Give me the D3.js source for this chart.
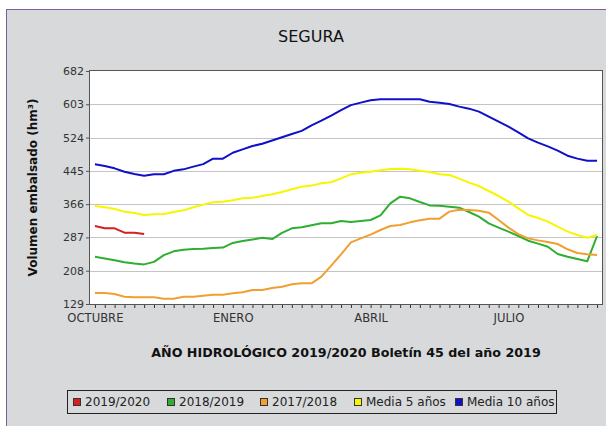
<!DOCTYPE html>
<html>
<head>
<meta charset="utf-8">
<script src="https://cdn.jsdelivr.net/npm/d3@7"></script>
<style>
  body { margin: 0; background: #fff; }
  svg text { font-family: "DejaVu Sans", sans-serif; }
</style>
</head>
<body>
<div id="chart-area"></div>
<script>
// weekly values, hm3, week 0 = start of October
var weeks = d3.range(52);
var monthLabels = ["OCTUBRE", "ENERO", "ABRIL", "JULIO"];
var monthWeeks = [0, 14, 28, 42];
var yTicks = [129, 208, 287, 366, 445, 524, 603, 682];

var s2019 = [314, 308.6, 308.6, 298.3, 298.3, 295.1];
var s2018 = [241, 237, 233, 228, 225, 223, 229, 245, 254, 258, 259.5, 260, 262, 263, 274, 278.5, 282, 286, 283, 298,
    308.6, 311, 316, 320.5, 320.5, 326, 323.6, 326, 328.4, 339.5, 368, 383.7, 379.8, 371, 363, 362.4, 360, 357.6, 347.4, 336.3,
    320.5, 310.2, 300.7, 290.4, 279.3, 272.2, 265, 247.7, 241.3, 235.8, 230.3, 290.4];
var s2017 = [155, 155, 152.8, 146.4, 144.8, 144.8, 144.8, 141.7, 141.7, 146.4, 146.4, 148.8, 151.2, 151.2, 154.3, 156.7, 162.2, 162.2, 167, 170,
    175.7, 178, 178, 194, 220, 247, 275.3, 284.8, 293.6, 304.6, 314, 316.5, 322.8, 327.6, 331.5, 331.5, 348.2, 352.9, 352.1, 350.5,
    345.8, 328.4, 310.2, 295, 284.8, 280, 276.2, 271.4, 258.8, 250, 247, 245.3];
var media5 = [361.6, 358.5, 354.5, 348.2, 345, 340.2, 341.8, 342.6, 347.4, 351.3, 358.5, 364.8, 370.3, 371.9, 375, 379.8, 381.4, 385.3, 389.3, 394.8,
    401.2, 407.5, 410, 415.4, 418, 427, 436.8, 440.7, 443, 446.2, 449.4, 450.2, 448.6, 445.5, 442.3, 436.8, 435.2, 426.5, 417, 409,
    397.2, 385.3, 371.9, 356, 340.2, 333, 324.4, 312.5, 300.7, 292.8, 286.4, 292.8];
var media10 = [460.5, 456.5, 451, 443, 437.5, 433.6, 436.8, 436.8, 445, 448.6, 455, 461, 474, 474, 488, 496, 504, 509.5, 517, 524.6,
    532.5, 540, 553, 564, 576, 589, 601, 607, 612.4, 614.8, 614.8, 614.8, 614.8, 614.8, 609.2, 606.8, 603.7, 597.4, 592.6, 585.5,
    573.6, 561.7, 549.9, 536.4, 522.2, 511.9, 503.2, 493, 481, 474, 469, 469];

var seriesNames = ["2019/2020", "2018/2019", "2017/2018", "Media 5 años", "Media 10 años"];
var seriesData = [s2019, s2018, s2017, media5, media10];
var seriesColors = ["#d42020", "#2fae2f", "#f0a030", "#f6f600", "#1010c8"];

var W = 606, H = 426;
var margin = {left: 90, right: 4, top: 71, bottom: 122};
var width = W - margin.left - margin.right;
var height = H - margin.top - margin.bottom;

var svg = d3.select("#chart-area")
    .append("svg")
    .attr("width", W)
    .attr("height", H);

// panel background with border on top/left
svg.append("rect")
    .attr("x", 6.5).attr("y", 9.5)
    .attr("width", W).attr("height", H)
    .attr("fill", "#d8d9db")
    .attr("stroke", "#7a5fa0")
    .attr("stroke-width", 1);

svg.append("text")
    .attr("x", 311).attr("y", 42)
    .attr("text-anchor", "middle")
    .attr("font-size", "16px")
    .attr("fill", "#111")
    .text("SEGURA");

var g = svg.append("g")
    .attr("transform", "translate(" + margin.left + "," + margin.top + ")");

var x = d3.scalePoint()
    .domain(weeks)
    .range([0, width])
    .padding(0.5);

var y = d3.scaleLinear()
    .domain([129, 682])
    .range([height, 0]);

g.append("rect")
    .attr("x", 0).attr("y", 0)
    .attr("width", width).attr("height", height)
    .attr("fill", "#fff");

// grid
g.selectAll(".grid")
    .data(yTicks.slice(1, -1))
    .enter()
    .append("line")
    .attr("class", "grid")
    .attr("x1", 0).attr("x2", width)
    .attr("y1", function(d){ return Math.round(y(d)) + 0.5; })
    .attr("y2", function(d){ return Math.round(y(d)) + 0.5; })
    .attr("stroke", "#c4c4c4")
    .attr("stroke-width", 1);

var yAxisCall = d3.axisLeft(y)
    .tickValues(yTicks)
    .tickSize(4)
    .tickSizeOuter(0)
    .tickPadding(2);
var yAxis = g.append("g")
    .attr("class", "yaxis")
    .call(yAxisCall);
yAxis.select(".domain").remove();
yAxis.selectAll("line").attr("stroke", "#555");
yAxis.selectAll("text")
    .attr("font-size", "11px")
    .attr("fill", "#333");

var xAxisCall = d3.axisBottom(x)
    .tickValues(weeks)
    .tickSize(4)
    .tickSizeOuter(0)
    .tickPadding(6)
    .tickFormat(function(d){
        var k = monthWeeks.indexOf(d);
        return k >= 0 ? monthLabels[k] : "";
    });
var xAxis = g.append("g")
    .attr("class", "xaxis")
    .attr("transform", "translate(0," + height + ")")
    .call(xAxisCall);
xAxis.select(".domain").remove();
xAxis.selectAll("line").attr("stroke", "#333");
xAxis.selectAll("text")
    .attr("font-size", "11.6px")
    .attr("fill", "#333");

// lines
var line = d3.line()
    .x(function(d, i){ return x(i); })
    .y(function(d){ return y(d); });

g.selectAll(".serie")
    .data(seriesData)
    .enter()
    .append("path")
    .attr("class", "serie")
    .attr("d", line)
    .attr("fill", "none")
    .attr("stroke", function(d, i){ return seriesColors[i]; })
    .attr("stroke-width", 2)
    .attr("stroke-linejoin", "round");

// plot border
g.append("rect")
    .attr("x", -0.5).attr("y", -0.5)
    .attr("width", width + 1).attr("height", height + 1)
    .attr("fill", "none")
    .attr("stroke", "#555");

// axis labels
svg.append("text")
    .attr("transform", "translate(37," + (margin.top + height / 2) + ") rotate(-90)")
    .attr("text-anchor", "middle")
    .attr("font-size", "12px")
    .attr("font-weight", "bold")
    .attr("fill", "#111")
    .text("Volumen embalsado (hm³)");

svg.append("text")
    .attr("x", 346).attr("y", 357)
    .attr("text-anchor", "middle")
    .attr("font-size", "12.7px")
    .attr("font-weight", "bold")
    .attr("fill", "#111")
    .text("AÑO HIDROLÓGICO 2019/2020 Boletín 45 del año 2019");

// legend
var legend = svg.append("g").attr("transform", "translate(67,390)");
legend.append("rect")
    .attr("x", 0.5).attr("y", 0.5)
    .attr("width", 489).attr("height", 23)
    .attr("fill", "none")
    .attr("stroke", "#222");

var legendX = [6, 100, 193, 287, 388];
var items = legend.selectAll(".item")
    .data(seriesNames)
    .enter()
    .append("g")
    .attr("class", "item")
    .attr("transform", function(d, i){ return "translate(" + legendX[i] + ",0)"; });
items.append("rect")
    .attr("x", 0.5).attr("y", 8.5)
    .attr("width", 7).attr("height", 7)
    .attr("fill", function(d, i){ return seriesColors[i]; })
    .attr("stroke", "#333");
items.append("text")
    .attr("x", 12).attr("y", 16)
    .attr("font-size", "12px")
    .attr("fill", "#222")
    .text(function(d){ return d; });
</script>
</body>
</html>
